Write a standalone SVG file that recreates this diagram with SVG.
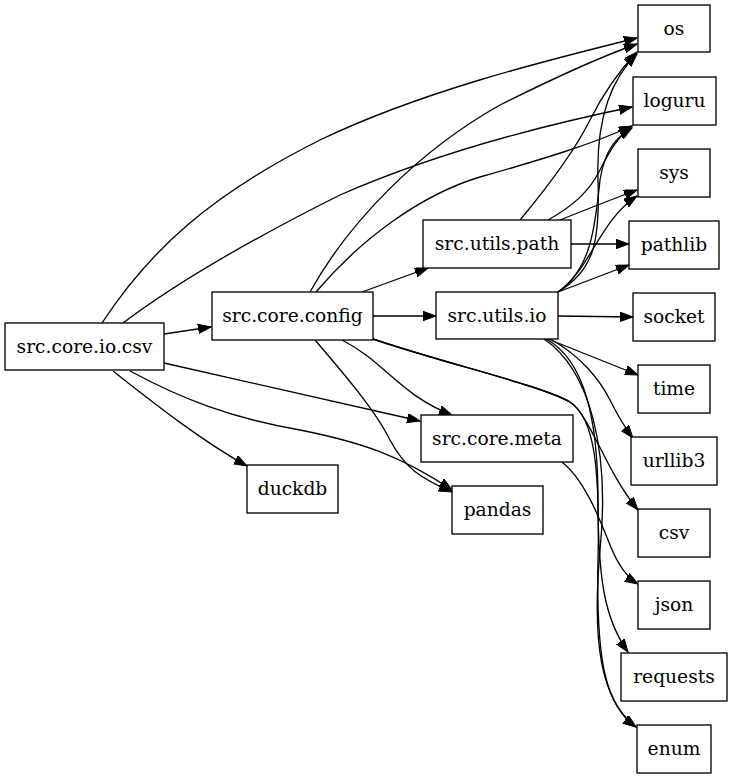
<svg xmlns="http://www.w3.org/2000/svg" width="732" height="779" viewBox="0 0 732 779">
<style>
.n rect{fill:#fff;stroke:#000;stroke-width:1.33}
.n text{font-family:"DejaVu Serif",serif;font-size:18.67px;text-anchor:middle;fill:#000}
.e path{fill:none;stroke:#000;stroke-width:1.33;marker-end:url(#ah)}
</style>
<defs>
<marker id="ah" markerUnits="userSpaceOnUse" markerWidth="16" markerHeight="12" refX="13" refY="4.7" orient="auto" viewBox="0 0 16 12">
<path d="M0,0 L13,4.7 L0,9.4 z" fill="#000" stroke="#000" stroke-width="1"/>
</marker>
</defs>
<rect width="732" height="779" fill="#fff"/>
<g id="edges" class="e">
<path d="M102,323 C150,250 210,195 320,140 C420,92 540,62 637,38"/>
<path d="M123,323 C180,280 260,235 340,195 C420,160 520,130 632,107"/>
<path d="M164,334 L211,327"/>
<path d="M164,363 L420,421"/>
<path d="M130,371 C180,398 230,418 300,430 C360,442 400,455 452,490"/>
<path d="M113,371 C150,400 200,440 247,466"/>
<path d="M310,292 C350,220 420,150 500,105 C560,75 600,57 637,44"/>
<path d="M316,292 C360,240 420,195 480,177 C540,160 590,145 632,126"/>
<path d="M362,292 L428,268"/>
<path d="M373,316 L436,316"/>
<path d="M342,340 C385,362 400,395 452,415"/>
<path d="M315,340 C345,375 375,410 390,440 C405,468 420,478 452,492"/>
<path d="M373,339 C450,365 540,385 570,402 C590,415 605,470 638,510"/>
<path d="M373,339 C450,365 540,385 570,402 C595,418 600,470 598,560 C596,660 605,705 636,727"/>
<path d="M520,220 C545,190 575,150 590,120 C605,90 620,70 637,52"/>
<path d="M548,220 C575,205 590,190 600,170 C610,150 618,137 632,126"/>
<path d="M560,220 C590,208 610,200 637,190"/>
<path d="M571,244 L629,244"/>
<path d="M558,292 C595,270 600,240 598,180 C596,120 610,80 637,54"/>
<path d="M558,292 C590,270 595,230 600,180 C605,150 615,138 632,128"/>
<path d="M558,292 C590,270 600,220 637,196"/>
<path d="M558,292 L629,265"/>
<path d="M558,316 L633,317"/>
<path d="M548,339 L638,375"/>
<path d="M550,339 C580,355 600,380 610,400 C620,420 625,428 633,438"/>
<path d="M546,339 C585,360 598,420 598,500 C598,580 605,620 628,652"/>
<path d="M544,339 C590,370 610,450 600,550 C592,640 600,700 636,727"/>
<path d="M562,462 C585,480 600,520 610,545 C618,565 628,578 638,584"/>
</g>
<g id="src.core.io.csv" class="n"><rect x="5" y="323" width="159" height="47"/><text x="84.5" y="352.5">src.core.io.csv</text></g>
<g id="src.core.config" class="n"><rect x="212" y="292" width="161" height="48"/><text x="292.5" y="322">src.core.config</text></g>
<g id="duckdb" class="n"><rect x="247" y="465" width="91" height="48"/><text x="292.5" y="495">duckdb</text></g>
<g id="src.utils.path" class="n"><rect x="423" y="220" width="148" height="48"/><text x="497" y="250">src.utils.path</text></g>
<g id="src.utils.io" class="n"><rect x="436" y="292" width="122" height="47"/><text x="497" y="321.5">src.utils.io</text></g>
<g id="src.core.meta" class="n"><rect x="421" y="415" width="152" height="47"/><text x="497" y="444.5">src.core.meta</text></g>
<g id="pandas" class="n"><rect x="452" y="486" width="91" height="48"/><text x="497.5" y="516">pandas</text></g>
<g id="os" class="n"><rect x="638" y="5" width="72" height="47"/><text x="674" y="34.5">os</text></g>
<g id="loguru" class="n"><rect x="633" y="77" width="83" height="48"/><text x="674.5" y="107">loguru</text></g>
<g id="sys" class="n"><rect x="638" y="149" width="72" height="48"/><text x="674" y="179">sys</text></g>
<g id="pathlib" class="n"><rect x="629" y="221" width="90" height="48"/><text x="674" y="251">pathlib</text></g>
<g id="socket" class="n"><rect x="633" y="293" width="82" height="48"/><text x="674" y="323">socket</text></g>
<g id="time" class="n"><rect x="638" y="365" width="72" height="48"/><text x="674" y="395">time</text></g>
<g id="urllib3" class="n"><rect x="631" y="437" width="86" height="48"/><text x="674" y="467">urllib3</text></g>
<g id="csv" class="n"><rect x="638" y="509" width="72" height="48"/><text x="674" y="539">csv</text></g>
<g id="json" class="n"><rect x="638" y="581" width="72" height="48"/><text x="674" y="611">json</text></g>
<g id="requests" class="n"><rect x="621" y="653" width="106" height="48"/><text x="674" y="683">requests</text></g>
<g id="enum" class="n"><rect x="637" y="725" width="74" height="48"/><text x="674" y="755">enum</text></g>
</svg>
